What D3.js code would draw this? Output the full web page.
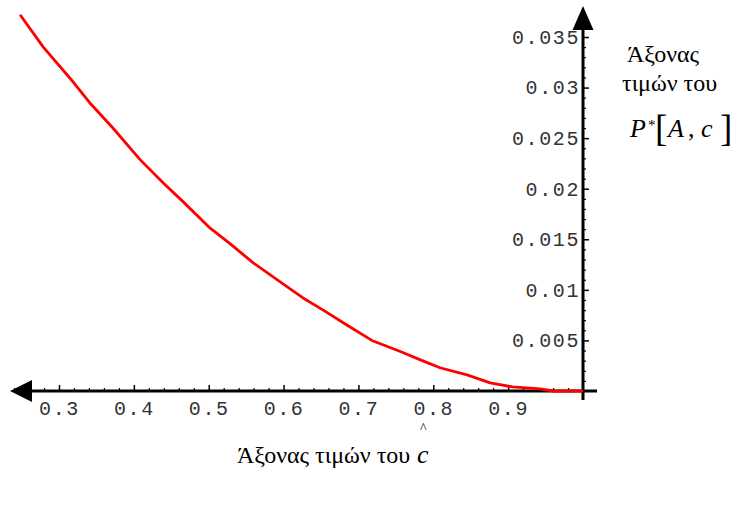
<!DOCTYPE html>
<html lang="el">
<head>
<meta charset="UTF-8" />
<title>P*[A,c]</title>
<script src="https://d3js.org/d3.v7.min.js"></script>
<style>
  body { margin: 0; padding: 0; background: white; }
  svg { display: block; }
  .tick text { font-family: "Liberation Mono", monospace; font-size: 20px; letter-spacing: 1.6px; fill: #333; }
  .title { font-family: "Liberation Serif", "Times New Roman", serif; font-size: 24px; fill: #000; }
</style>
</head>
<body>
<svg id="chart" width="751" height="509"></svg>
<script>
// values: c (x) and P*[A,c] (y)
const cValues = [0.248, 0.279, 0.315, 0.341, 0.372, 0.408, 0.439, 0.466, 0.502, 0.528,
                 0.559, 0.605, 0.626, 0.653, 0.685, 0.718, 0.756, 0.782, 0.809, 0.845,
                 0.876, 0.906, 0.943, 0.960, 1.0];
const pValues = [0.0372, 0.0340, 0.0309, 0.0285, 0.0260, 0.0229, 0.0206, 0.0187, 0.0161, 0.0146,
                 0.0127, 0.0103, 0.0092, 0.0080, 0.0065, 0.0050, 0.0039, 0.0031, 0.0023, 0.0016,
                 0.0008, 0.0004, 0.0002, 0.0000, 0.0000];
const xTicks = [0.3, 0.4, 0.5, 0.6, 0.7, 0.8, 0.9];
const yTicks = [0.005, 0.01, 0.015, 0.02, 0.025, 0.03, 0.035];
const xTitle = "Άξονας τιμών του";
const yTitle = ["Άξονας", "τιμών του"];

const svg = d3.select("#chart");

const x = d3.scaleLinear().domain([0.3, 1.0]).range([59, 583]);
const y = d3.scaleLinear().domain([0, 0.035]).range([391, 37]);

const x0 = x(1.0), y0 = y(0);

// minor ticks
const xMinor = d3.range(0.24, 0.99, 0.02).filter(v => !xTicks.some(t => Math.abs(t - v) < 1e-6));
const yMinor = d3.range(0.001, 0.0375, 0.001).filter(v => !yTicks.some(t => Math.abs(t - v) < 1e-9));

svg.append("g")
  .attr("transform", `translate(0,${y0})`)
  .call(d3.axisBottom(x).tickValues(xMinor).tickSize(-3).tickFormat(""))
  .call(g => g.select(".domain").remove())
  .call(g => g.selectAll("line").attr("stroke", "#000").attr("stroke-width", 1.2));

svg.append("g")
  .attr("transform", `translate(0,${y0})`)
  .call(d3.axisBottom(x).tickValues(xTicks).tickSize(-6).tickPadding(12).tickFormat(d3.format(".1f")))
  .call(g => g.select(".domain").remove())
  .call(g => g.selectAll("line").attr("stroke", "#000").attr("stroke-width", 1.5))
  .call(g => g.selectAll("text").attr("dy", "0.6em"));

svg.append("g")
  .attr("transform", `translate(${x0},0)`)
  .call(d3.axisLeft(y).tickValues(yMinor).tickSize(-3).tickFormat(""))
  .call(g => g.select(".domain").remove())
  .call(g => g.selectAll("line").attr("stroke", "#000").attr("stroke-width", 1.2));

svg.append("g")
  .attr("transform", `translate(${x0},0)`)
  .call(d3.axisLeft(y).tickValues(yTicks).tickSize(-6).tickPadding(3).tickFormat(d => String(+d.toFixed(3))))
  .call(g => g.select(".domain").remove())
  .call(g => g.selectAll("line").attr("stroke", "#000").attr("stroke-width", 1.5));

// main axis lines with arrows
svg.append("line")
  .attr("x1", 28).attr("x2", x0 + 14)
  .attr("y1", y0).attr("y2", y0)
  .attr("stroke", "#000").attr("stroke-width", 3);
svg.append("path")
  .attr("d", `M10,${y0} L32,${y0 - 11} L32,${y0 + 11} Z`)
  .attr("fill", "#000");

svg.append("line")
  .attr("x1", x0).attr("x2", x0)
  .attr("y1", 26).attr("y2", y0 + 9)
  .attr("stroke", "#000").attr("stroke-width", 3);
svg.append("path")
  .attr("d", `M${x0},6 L${x0 - 10.5},30 L${x0 + 10.5},30 Z`)
  .attr("fill", "#000");

// curve
const line = d3.line()
  .x((d, i) => x(cValues[i]))
  .y(d => y(d));

svg.append("path")
  .datum(pValues)
  .attr("d", line)
  .attr("fill", "none")
  .attr("stroke", "#ff0000")
  .attr("stroke-width", 2.8)
  .attr("stroke-linejoin", "round");

// right-hand title
svg.append("text").attr("class", "title").attr("x", 627).attr("y", 62).text(yTitle[0]);
svg.append("text").attr("class", "title").attr("x", 622).attr("y", 91).text(yTitle[1]);

const pLab = (txt, px, opts = {}) => svg.append("text").attr("class", "title")
  .attr("x", px).attr("y", opts.y || 137)
  .style("font-style", opts.italic ? "italic" : null)
  .style("font-size", opts.size || null)
  .text(txt);
pLab("P", 630, { italic: true, size: "26px" });
pLab("*", 648, { y: 130, size: "15px" });
pLab("[", 655, { y: 141, size: "37px" });
pLab("A", 668, { italic: true, size: "26px" });
pLab(",", 688, { size: "26px" });
pLab("c", 701, { italic: true, size: "26px" });
pLab("]", 720, { y: 141, size: "37px" });

// bottom title
svg.append("text").attr("class", "title").attr("x", 237).attr("y", 463).text(xTitle);
svg.append("text").attr("class", "title").attr("x", 417).attr("y", 463)
  .style("font-style", "italic").style("font-size", "26px").text("c");
svg.append("text").attr("class", "title").attr("x", 420).attr("y", 433)
  .style("font-size", "14px").text("^");
</script>
</body>
</html>
